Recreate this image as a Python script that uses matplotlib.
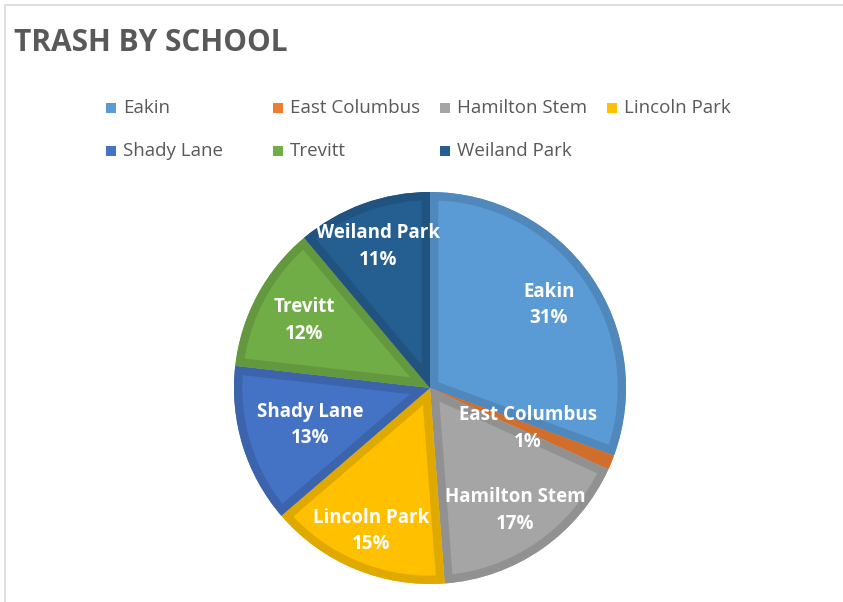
import matplotlib.pyplot as plt
import matplotlib.colors as mcolors
import numpy as np
from matplotlib.patches import Rectangle, Wedge

schools = ['Eakin', 'East Columbus', 'Hamilton Stem', 'Lincoln Park',
           'Shady Lane', 'Trevitt', 'Weiland Park']
share = [30.6, 1.2, 17.0, 14.9, 13.1, 12.1, 11.1]
colors = ['#5B9BD5', '#ED7D31', '#A5A5A5', '#FFC000', '#4472C4', '#70AD47', '#255E91']
label_dist = [0.74, 0.54, 0.76, 0.79, 0.64, 0.73, 0.77]

W, H = 843, 602
fig = plt.figure(figsize=(W / 100, H / 100), dpi=100)
fig.patch.set_facecolor('white')

# frame of the chart area
fig.patches.append(Rectangle((5 / W, -0.1), 1.2, (H - 5) / H + 0.1, transform=fig.transFigure,
                             fill=False, edgecolor='#D9D9D9', linewidth=1.2))

cx, cy, r = 430, 388, 196
ax = fig.add_axes([(cx - r) / W, (H - cy - r) / H, 2 * r / W, 2 * r / H])

def darker(c, f=0.88):
    rgb = np.array(mcolors.to_rgb(c))
    return tuple(rgb * f)

wedges, _ = ax.pie(share, colors=colors, startangle=90, counterclock=False,
                   radius=1, wedgeprops=dict(linewidth=0))

# Excel-style inner border band
for w, c in zip(wedges, colors):
    band = ax.add_patch(Wedge(w.center, w.r, w.theta1, w.theta2,
                              facecolor='none', edgecolor=darker(c), linewidth=12))
    band.set_clip_path(w)
    w.set_edgecolor('none')

for w, name, val, d in zip(wedges, schools, share, label_dist):
    ang = np.deg2rad((w.theta1 + w.theta2) / 2)
    ax.text(d * np.cos(ang), d * np.sin(ang), f'{name}\n{round(val):.0f}%',
            ha='center', va='center', color='white', fontsize=13.5, fontweight='bold',
            family='Open Sans', linespacing=1.45)

ax.set_xlim(-1, 1)
ax.set_ylim(-1, 1)
ax.axis('off')

fig.text(14 / W, 1 - 43 / H, 'TRASH BY SCHOOL', ha='left', va='center',
         fontsize=21.5, fontweight='bold', color='#595959', family='Open Sans')

for i, (name, c) in enumerate(zip(schools, colors)):
    col, row = i % 4, i // 4
    x = 106 + col * 167
    y = 108 + row * 43
    fig.patches.append(Rectangle((x / W, 1 - (y + 5) / H), 10 / W, 10 / H,
                                 transform=fig.transFigure, facecolor=c, edgecolor='none'))
    fig.text((x + 17) / W, 1 - y / H, name, ha='left', va='center',
             fontsize=13.5, color='#595959', family='Open Sans')

fig.savefig('out.png', dpi=100)
